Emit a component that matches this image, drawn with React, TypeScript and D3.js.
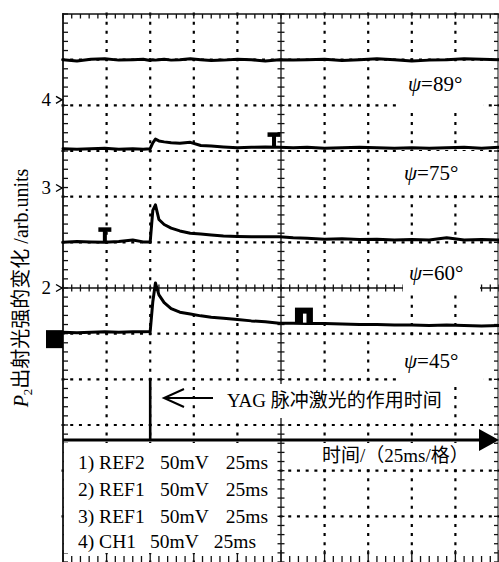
import React from "react";
import * as d3 from "d3";

// time base in ms (25 ms per division)
const timeMs = [0, 8, 16, 24, 32, 40, 46, 50, 51.5, 53, 55, 58, 62, 67, 73, 79, 85, 92, 100, 108, 116, 124, 132, 140, 150, 160, 170, 180, 190, 200, 210, 220, 230, 240, 250];

// trace levels, in screen divisions counted from the bottom edge
const psi89 = [11.0, 10.97, 11.01, 11.02, 10.99, 11.0, 11.01, 10.98, 11.0, 10.99, 11.0, 11.01, 10.99, 11.0, 11.02, 11.0, 10.98, 10.99, 11.01, 11.0, 10.97, 11.0, 10.99, 11.0, 11.01, 10.98, 11.0, 11.02, 11.0, 10.97, 10.99, 11.0, 11.02, 11.01, 11.0];
const psi75 = [9.05, 9.04, 9.05, 9.06, 9.04, 9.05, 9.04, 9.05, 9.18, 9.26, 9.22, 9.2, 9.18, 9.17, 9.19, 9.12, 9.11, 9.09, 9.07, 9.08, 9.09, 9.08, 9.07, 9.08, 9.06, 9.07, 9.08, 9.07, 9.06, 9.07, 9.06, 9.07, 9.08, 9.06, 9.08];
const psi60 = [7.0, 7.02, 7.01, 7.0, 7.02, 7.05, 7.01, 7.01, 7.7, 7.82, 7.5, 7.39, 7.31, 7.25, 7.2, 7.18, 7.16, 7.14, 7.13, 7.12, 7.12, 7.12, 7.1, 7.09, 7.07, 7.08, 7.06, 7.07, 7.05, 7.06, 7.05, 7.1, 7.05, 7.06, 7.05];
const psi45 = [5.03, 5.02, 5.03, 5.04, 5.03, 5.04, 5.04, 5.05, 5.7, 6.11, 5.85, 5.68, 5.55, 5.47, 5.43, 5.39, 5.36, 5.34, 5.31, 5.28, 5.26, 5.23, 5.23, 5.22, 5.22, 5.21, 5.2, 5.2, 5.19, 5.19, 5.18, 5.19, 5.18, 5.17, 5.18];

// dotted graticule lines (divisions) and screen ticks
const gridRows = [1, 2, 3, 4, 5, 7, 8, 9, 10, 11];
const gridCols = [25, 50, 75, 100, 150, 175, 200, 225];

const psiAngles = ["89", "75", "60", "45"];
const channelLabels = ["4", "3", "2"];
const channelLevels = [10.12, 8.19, 6.0];
const squareLevel = 4.88;
const legendNames = ["1) REF2", "2) REF1", "3) REF1", "4) CH1"];
const legendVolts = ["50mV", "50mV", "50mV", "50mV"];
const legendTimes = ["25ms", "25ms", "25ms", "25ms"];

const pulseTime = 50;
const axisLevel = 2.67;

const serif = "'Liberation Serif', 'Noto Sans CJK SC', serif";

export default function App() {
  const x = d3.scaleLinear().domain([0, 250]).range([63, 499]);
  const y = d3.scaleLinear().domain([0, 12]).range([562, 14]);
  const line = d3
    .line<number>()
    .x((_, i) => x(timeMs[i]))
    .y((d) => y(d));

  const minorT = d3.range(0, 250.001, 5);
  const minorD = d3.range(0, 12.001, 0.2);
  const stepX = x(5) - x(0);
  const stepY = y(0) - y(0.2);

  const cx = x(125);
  const cy = y(6);
  const axY = y(axisLevel);

  // white boxes behind the annotations
  const masks = [
    [398, 62, 85, 45],
    [398, 151, 85, 44],
    [403, 250, 77, 43],
    [398, 337, 85, 45],
    [222, 384, 228, 34],
    [64, 443, 213, 110],
    [286, 443, 194, 25],
  ];

  const labelY = [91, 180, 280, 368];
  const labelX = [408, 404, 409, 404];

  // trigger markers
  const tMarks = [
    { t: 121, v: psi75[21] },
    { t: 24, v: psi60[3] },
  ];

  return (
    <div style={{ position: "fixed", left: 0, top: 0 }}>
      <svg width={499} height={562} style={{ display: "block", background: "#fff" }}>
        {/* dotted graticule */}
        {gridRows.map((d) => (
          <path
            key={`gr${d}`}
            d={`M${x(0) - 1.5},${y(d)}H${x(250)}`}
            stroke="#000"
            strokeWidth={2.2}
            fill="none"
            strokeDasharray={`3 ${(stepX - 3).toFixed(3)}`}
          />
        ))}
        {gridCols.map((t) => (
          <path
            key={`gc${t}`}
            d={`M${x(t)},${y(12) - 1.5}V${y(0)}`}
            stroke="#000"
            strokeWidth={2.2}
            fill="none"
            strokeDasharray={`3 ${(stepY - 3).toFixed(3)}`}
          />
        ))}

        {/* centre cross lines */}
        <line x1={cx} x2={cx} y1={14} y2={562} stroke="#111" strokeWidth={1.3} />
        <line x1={63} x2={499} y1={cy} y2={cy} stroke="#111" strokeWidth={1.3} />
        {minorD.map((d) => (
          <line key={`cv${d}`} x1={cx - 3.5} x2={cx + 3.5} y1={y(d)} y2={y(d)} stroke="#111" strokeWidth={1.3} />
        ))}
        {minorT.map((t) => (
          <line key={`ch${t}`} x1={x(t)} x2={x(t)} y1={cy - 3.5} y2={cy + 3.5} stroke="#111" strokeWidth={1.3} />
        ))}

        {/* frame and edge ticks */}
        <line x1={63} x2={63} y1={13} y2={562} stroke="#111" strokeWidth={1.8} />
        <line x1={63} x2={499} y1={14} y2={14} stroke="#111" strokeWidth={1.6} />
        <line x1={498} x2={498} y1={14} y2={562} stroke="#111" strokeWidth={1} />
        {minorT.map((t) => (
          <line key={`tt${t}`} x1={x(t)} x2={x(t)} y1={14} y2={18.5} stroke="#111" strokeWidth={1.3} />
        ))}
        {minorT.map((t) => (
          <line
            key={`bt${t}`}
            x1={x(t)}
            x2={x(t)}
            y1={562}
            y2={t % 25 === 0 ? 550 : 556}
            stroke="#111"
            strokeWidth={1.3}
          />
        ))}
        {minorD.map((d) => (
          <line key={`lt${d}`} x1={63} x2={68} y1={y(d)} y2={y(d)} stroke="#111" strokeWidth={1.3} />
        ))}
        {minorD.map((d) => (
          <line key={`rt${d}`} x1={494} x2={498} y1={y(d)} y2={y(d)} stroke="#111" strokeWidth={1.3} />
        ))}

        {/* masks */}
        {masks.map(([mx, my, mw, mh], i) => (
          <rect key={`m${i}`} x={mx} y={my} width={mw} height={mh} fill="#fff" />
        ))}

        {/* traces */}
        {[psi89, psi75, psi60, psi45].map((s, i) => (
          <path
            key={`tr${i}`}
            d={line(s) || ""}
            fill="none"
            stroke="#000"
            strokeWidth={3}
            strokeLinejoin="round"
            strokeLinecap="round"
          />
        ))}

        {/* T markers */}
        {tMarks.map((m, i) => {
          const mx = x(m.t);
          const my = y(m.v);
          return (
            <g key={`tm${i}`} fill="#000">
              <rect x={mx - 6.5} y={my - 15} width={13} height={4.5} />
              <rect x={mx - 2} y={my - 12} width={4} height={12} />
            </g>
          );
        })}
        {/* block marker on CH1 trace */}
        <g fill="#000">
          <rect x={x(133)} y={y(psi45[23]) - 16} width={x(143.3) - x(133)} height={16} />
          <rect x={x(137.6)} y={y(psi45[23]) - 10} width={3.5} height={9} fill="#fff" />
        </g>

        {/* channel markers on the left */}
        {channelLabels.map((lab, i) => (
          <g key={`cl${i}`}>
            <text x={51} y={y(channelLevels[i]) + 6} textAnchor="end" fontSize={19} fontFamily={serif}>
              {lab}
            </text>
            <path
              d={`M56,${y(channelLevels[i]) - 3.5} L62,${y(channelLevels[i])} L56,${y(channelLevels[i]) + 3.5}`}
              fill="none"
              stroke="#000"
              strokeWidth={1.4}
            />
          </g>
        ))}
        <rect x={46} y={y(squareLevel) - 9} width={17} height={18} fill="#000" />

        {/* psi labels */}
        {psiAngles.map((a, i) => (
          <text key={`pl${i}`} x={labelX[i]} y={labelY[i]} fontSize={21} fontFamily={serif}>
            <tspan fontStyle="italic">ψ</tspan>={a}°
          </text>
        ))}

        {/* laser pulse marker */}
        <line x1={x(pulseTime)} x2={x(pulseTime)} y1={378} y2={axY} stroke="#000" strokeWidth={2.6} />
        <path d="M213,398 H165" stroke="#000" strokeWidth={2} fill="none" />
        <path d="M184,389 L164,398 L184,407" stroke="#000" strokeWidth={2} fill="none" />
        <text x={227} y={407} fontSize={19} fontFamily={serif}>
          YAG 脉冲激光的作用时间
        </text>

        {/* time axis */}
        <line x1={63} x2={484} y1={axY} y2={axY} stroke="#000" strokeWidth={3} />
        <path d={`M479,${axY - 11} L499,${axY} L479,${axY + 11} Z`} fill="#000" />
        <text x={322} y={462} fontSize={19} fontFamily={serif}>
          时间/（25ms/格）
        </text>

        {/* legend */}
        {legendNames.map((n, i) => {
          const by = [469, 496, 523, 548][i];
          const ch = i === 3;
          return (
            <g key={`lg${i}`} fontSize={19.5} fontFamily={serif}>
              <text x={78} y={by}>{n}</text>
              <text x={ch ? 150 : 160} y={by}>{legendVolts[i]}</text>
              <text x={ch ? 256 : 268} y={by} textAnchor="end">{legendTimes[i]}</text>
            </g>
          );
        })}

        {/* y title */}
        <text transform="translate(28,288) rotate(-90)" textAnchor="middle" fontSize={20} fontFamily={serif}>
          <tspan fontStyle="italic">P</tspan>
          <tspan fontSize={13} dy={4}>2</tspan>
          <tspan dy={-4}>出射光强的变化 /arb.units</tspan>
        </text>
      </svg>
    </div>
  );
}
